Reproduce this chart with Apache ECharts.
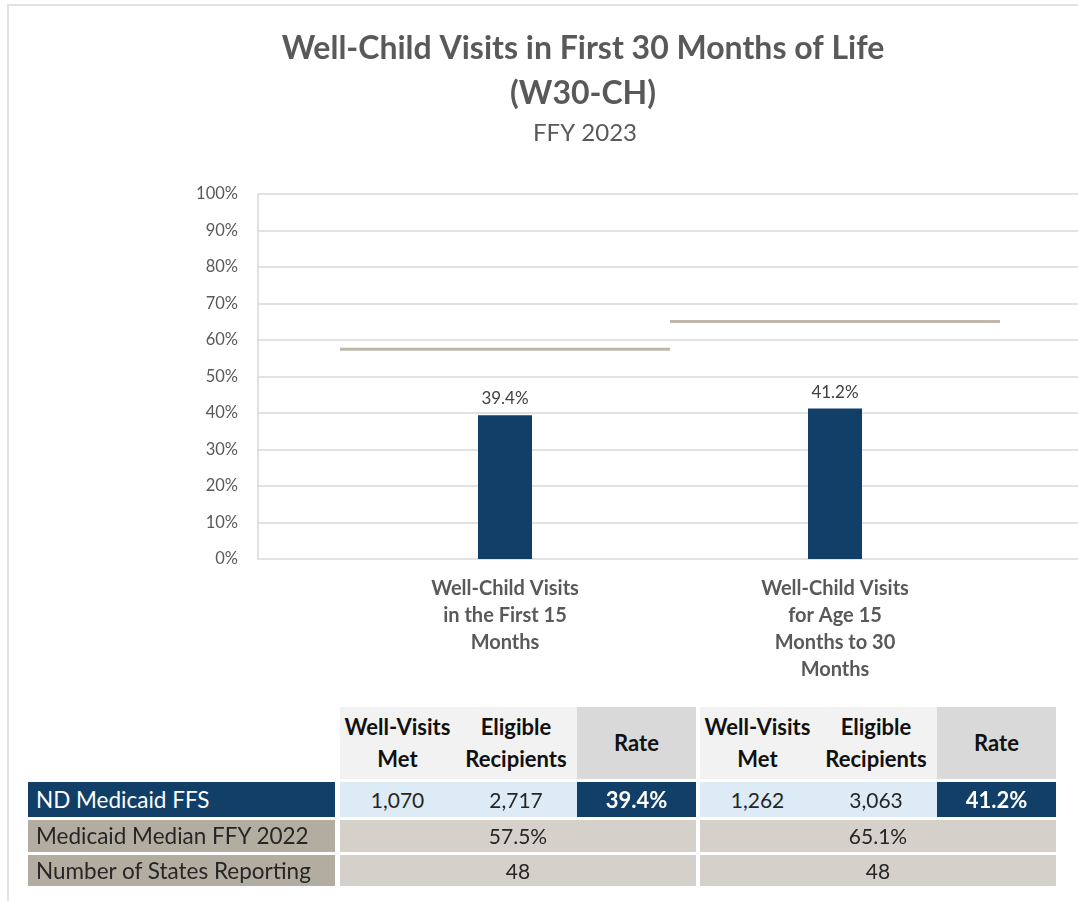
<!DOCTYPE html>
<html>
<head>
<meta charset="utf-8">
<script src="https://cdn.jsdelivr.net/npm/echarts@6/dist/echarts.min.js"></script>
<style>
html,body{margin:0;padding:0;background:#fff;}
#wrap{position:relative;width:1078px;height:901px;overflow:hidden;}
#chart{position:absolute;left:0;top:0;width:1078px;height:901px;}
.cell{position:absolute;display:flex;align-items:center;justify-content:center;text-align:center;box-sizing:border-box;font-family:Lato,"Open Sans",sans-serif;line-height:32px;white-space:pre;}
</style>
</head>
<body>
<div id="wrap">
<div id="chart"></div>
</div>
<script>
// ---- data ----
const titleText = 'Well-Child Visits in First 30 Months of Life';
const titleCode = '(W30-CH)';
const subTitle = 'FFY 2023';
const categories = ['Well-Child Visits\nin the First 15\nMonths', 'Well-Child Visits\nfor Age 15\nMonths to 30\nMonths'];
const ndRates = [39.4, 41.2];
const medianRates = [57.5, 65.1];
const wellVisitsMet = [1070, 1262];
const eligibleRecipients = [2717, 3063];
const statesReporting = [48, 48];
const yMin = 0, yMax = 100, yStep = 10;
const tableHeaders = ['Well-Visits\nMet', 'Eligible\nRecipients', 'Rate'];
const rowLabels = ['ND Medicaid FFS', 'Medicaid Median FFY 2022', 'Number of States Reporting'];

// ---- chart ----
const chart = echarts.init(document.getElementById('chart'));
const navy = '#123F68';
const textGray = '#595959';
const gridGray = '#D9D9D9';

chart.setOption({
  animation: false,
  backgroundColor: '#fff',
  title: [{
    text: titleText + '\n' + titleCode,
    left: 578, top: 21, textAlign: 'center',
    textStyle: {fontFamily: 'Lato', fontWeight: 'bold', fontSize: 32, color: textGray, lineHeight: 45}
  }, {
    text: subTitle,
    left: 580, top: 116, textAlign: 'center',
    textStyle: {fontFamily: 'Lato', fontWeight: 'normal', fontSize: 24, color: textGray}
  }],
  graphic: [{
    type: 'rect', silent: true,
    shape: {x: 8, y: 5, width: 1200, height: 1200},
    style: {fill: 'none', stroke: '#E3E3E3', lineWidth: 2}
  }],
  grid: [
    {left: 258, right: 0, top: 194, bottom: 342},
    {left: 340, right: 78, top: 194, bottom: 342}
  ],
  xAxis: [
    {gridIndex: 0, type: 'value', show: false, min: 0, max: 1},
    {gridIndex: 1, type: 'category', data: categories,
     axisLine: {show: false}, axisTick: {show: false},
     axisLabel: {interval: 0, margin: 16, color: textGray, fontFamily: 'Lato', fontWeight: 'bold', fontSize: 20, lineHeight: 27}}
  ],
  yAxis: [
    {gridIndex: 0, type: 'value', min: yMin, max: yMax, interval: yStep,
     axisLine: {show: true, lineStyle: {color: gridGray, width: 1.5}},
     axisTick: {show: false},
     splitLine: {show: true, lineStyle: {color: gridGray, width: 1.5}},
     axisLabel: {formatter: '{value}%', margin: 20, color: textGray, fontFamily: 'Lato', fontSize: 16.5}},
    {gridIndex: 1, type: 'value', min: yMin, max: yMax, interval: yStep, show: false, splitLine: {show: false}}
  ],
  series: [{
    type: 'bar', xAxisIndex: 1, yAxisIndex: 1,
    data: ndRates, barWidth: 54,
    itemStyle: {color: navy},
    label: {show: true, position: 'top', distance: 8, formatter: p => p.value.toFixed(1) + '%',
            color: '#404040', fontFamily: 'Lato', fontSize: 17}
  }, {
    type: 'custom', xAxisIndex: 1, yAxisIndex: 1,
    data: medianRates.map((v, i) => [i, v]),
    renderItem: function (params, api) {
      const pt = api.coord([api.value(0), api.value(1)]);
      const w = api.size([1, 0])[0];
      return {type: 'line', shape: {x1: pt[0] - w / 2, y1: pt[1], x2: pt[0] + w / 2, y2: pt[1]},
              style: {stroke: '#BFB8AA', lineWidth: 3}};
    },
    z: 3
  }]
});

// ---- table (HTML, real text) ----
const wrap = document.getElementById('wrap');
const fmt = n => n.toLocaleString('en-US');
function cell(x, y, w, h, bg, txt, opts) {
  const d = document.createElement('div');
  d.className = 'cell';
  d.style.left = x + 'px'; d.style.top = y + 'px';
  d.style.width = w + 'px'; d.style.height = h + 'px';
  d.style.background = bg;
  d.style.color = opts.color || '#262626';
  d.style.fontSize = (opts.size || 20) + 'px';
  d.style.fontWeight = opts.bold ? 'bold' : 'normal';
  if (opts.align === 'left') { d.style.justifyContent = 'flex-start'; d.style.paddingLeft = '8px'; }
  d.innerText = txt;
  wrap.appendChild(d);
}
const groups = [340, 700];
const colW = [115, 122, 119];
const rowY = [707, 782, 820, 855];
const rowH = [72, 35, 32, 31];
// row labels
cell(28, rowY[1], 307, rowH[1], navy, rowLabels[0], {color: '#fff', size: 22.5, align: 'left'});
cell(28, rowY[2], 307, rowH[2], '#B3ADA1', rowLabels[1], {color: '#262626', size: 22.5, align: 'left'});
cell(28, rowY[3], 307, rowH[3], '#B3ADA1', rowLabels[2], {color: '#262626', size: 22.5, align: 'left'});
groups.forEach((gx, gi) => {
  let x = gx;
  tableHeaders.forEach((h, ci) => {
    cell(x, rowY[0], colW[ci], rowH[0], ci === 2 ? '#D9D9D9' : '#F2F2F2', h, {color: '#111', bold: true, size: 22});
    x += colW[ci];
  });
  cell(gx, rowY[1], colW[0], rowH[1], '#DDEBF7', fmt(wellVisitsMet[gi]), {size: 21});
  cell(gx + colW[0], rowY[1], colW[1], rowH[1], '#DDEBF7', fmt(eligibleRecipients[gi]), {size: 21});
  cell(gx + colW[0] + colW[1], rowY[1], colW[2], rowH[1], navy, ndRates[gi].toFixed(1) + '%', {color: '#fff', bold: true, size: 22});
  const tw = colW[0] + colW[1] + colW[2];
  cell(gx, rowY[2], tw, rowH[2], '#D5D1CA', medianRates[gi].toFixed(1) + '%', {size: 21});
  cell(gx, rowY[3], tw, rowH[3], '#D5D1CA', String(statesReporting[gi]), {size: 21});
});
</script>
</body>
</html>
